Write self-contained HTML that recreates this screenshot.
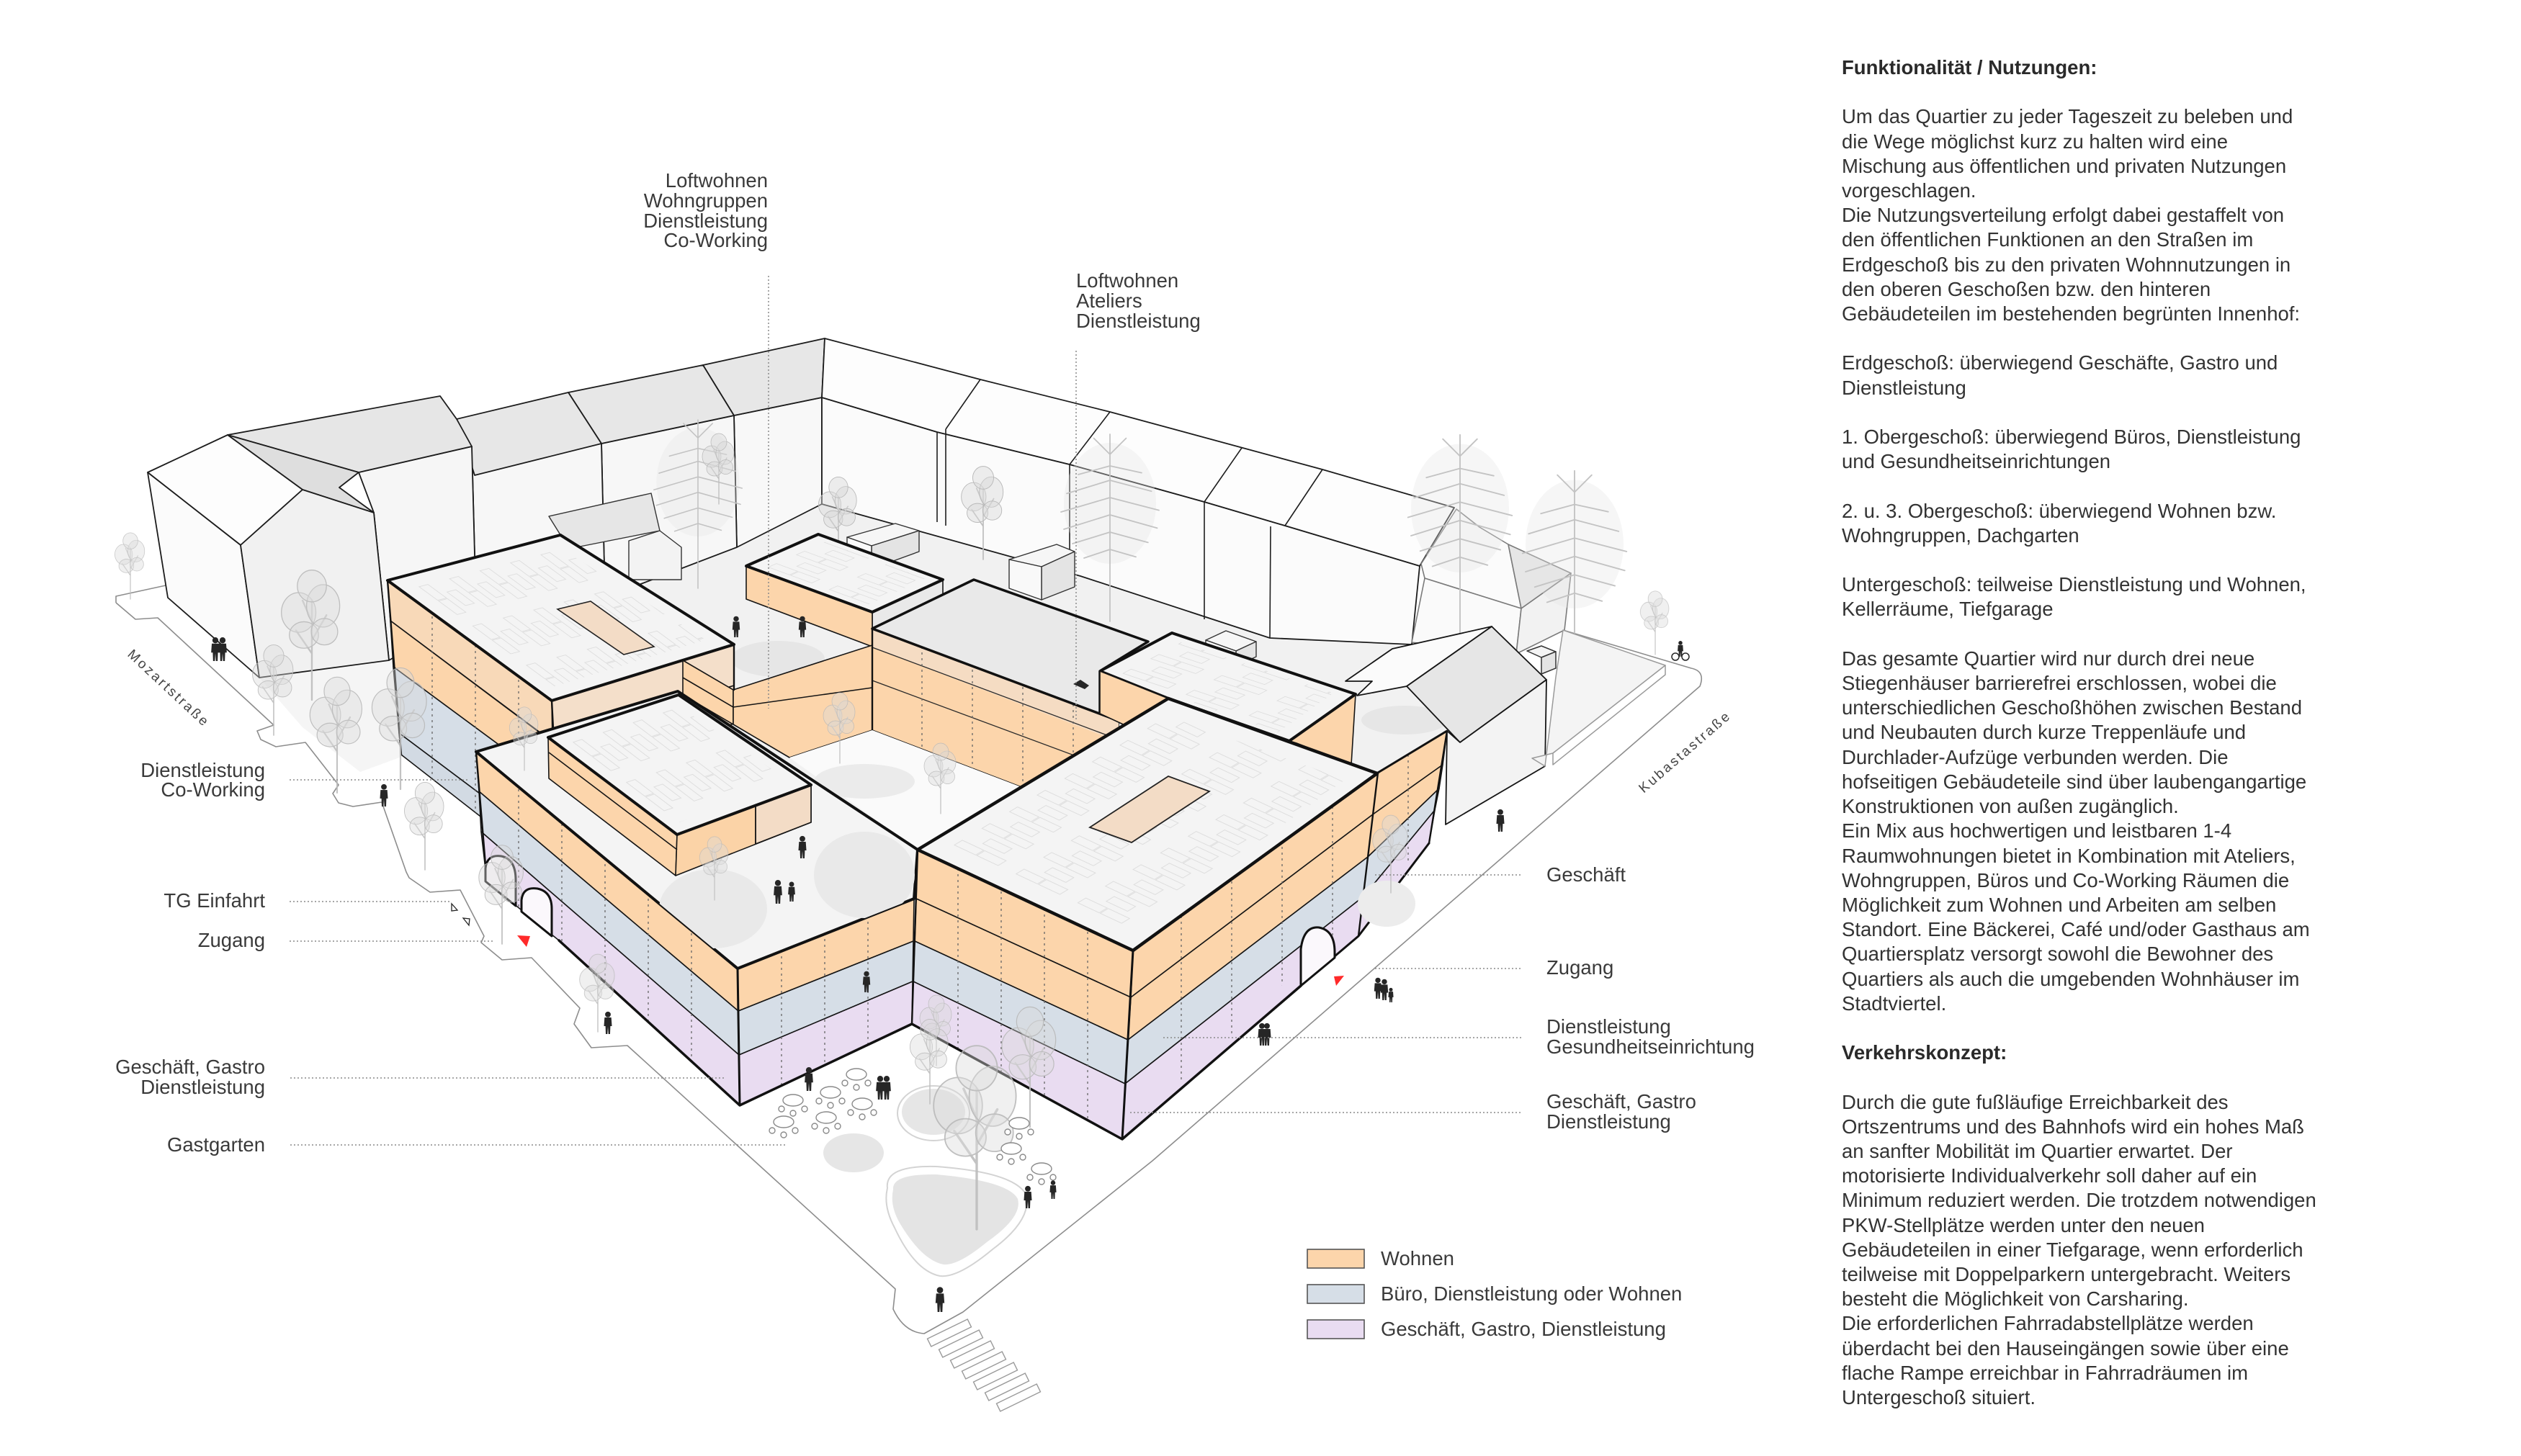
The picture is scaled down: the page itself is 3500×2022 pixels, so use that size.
<!DOCTYPE html>
<html lang="de"><head><meta charset="utf-8"><title>Funktionalität / Nutzungen</title>
<style>
html,body{margin:0;padding:0;background:#fff;}
body{width:3500px;height:2022px;position:relative;overflow:hidden;font-family:"Liberation Sans",Arial,Helvetica,sans-serif;}
svg{position:absolute;left:0;top:0;display:block;}
#txt{position:absolute;left:2557px;top:77px;font-size:27.5px;line-height:34.2px;color:#333;white-space:pre;margin:0;font-family:"Liberation Sans",Arial,Helvetica,sans-serif;}
#txt b{font-weight:bold;color:#2a2a2a;}
</style></head><body>
<svg width="3500" height="2022" viewBox="0 0 3500 2022" xmlns="http://www.w3.org/2000/svg">
<defs>
 <g id="tr">
  <path d="M0,0 L0,-150 M0,-70 L-24,-105 M0,-90 L22,-128 M0,-118 L-14,-150" stroke="#bdbdbd" stroke-width="2.6" fill="none" stroke-linecap="round"/>
  <g fill="#d9d9d9" fill-opacity="0.45" stroke="#b8b8b8" stroke-width="1.4">
   <ellipse cx="-20" cy="-132" rx="26" ry="30"/>
   <ellipse cx="17" cy="-142" rx="25" ry="32"/>
   <ellipse cx="0" cy="-172" rx="22" ry="24"/>
   <ellipse cx="-12" cy="-98" rx="22" ry="20"/>
   <ellipse cx="19" cy="-103" rx="20" ry="20"/>
  </g>
 </g>
 <g id="pm">
  <ellipse cx="0" cy="-205" rx="80" ry="105" fill="#e4e4e4" fill-opacity="0.35"/>
  <path d="M0,0 L0,-290 M0,-270 L-55,-255 M0,-270 L55,-258 M0,-245 L-75,-222 M0,-245 L72,-226 M0,-215 L-85,-190 M0,-215 L85,-193 M0,-185 L-80,-160 M0,-185 L82,-162 M0,-155 L-65,-135 M0,-155 L66,-137 M0,-290 L-28,-318 M0,-290 L28,-318 M0,-290 L0,-325 M0,-125 L-45,-110 M0,-125 L45,-112" stroke="#c3c3c3" stroke-width="2.2" fill="none" stroke-linecap="round"/>
 </g>
 <g id="p" fill="#262626"><circle cx="0" cy="-32" r="4.6"/><path d="M-5.5,-27 L5.5,-27 L6.5,-13 L4,-13 L3.5,0 L0.8,0 L0,-12 L-0.8,0 L-3.5,0 L-4,-13 L-6.5,-13 Z"/></g>
 <g id="tb" fill="#fff" stroke="#8a8a8a" stroke-width="1.4"><ellipse cx="0" cy="0" rx="14" ry="8"/><circle cx="-16" cy="12" r="4"/><circle cx="16" cy="12" r="4"/><circle cx="0" cy="18" r="4"/></g>
 <g id="pvcell"><rect x="4" y="4" width="38" height="15" fill="none" stroke="#dcdcdc" stroke-width="1.3"/><rect x="44" y="4" width="38" height="15" fill="none" stroke="#dcdcdc" stroke-width="1.3"/><rect x="30" y="30" width="38" height="15" fill="none" stroke="#dcdcdc" stroke-width="1.3"/></g>
 <pattern id="pvD" width="110" height="52" patternUnits="userSpaceOnUse" patternTransform="matrix(0.906,0.424,0.857,-0.517,1274,1180)"><use href="#pvcell"/></pattern>
 <pattern id="pvA" width="110" height="52" patternUnits="userSpaceOnUse" patternTransform="matrix(0.806,0.590,0.968,-0.254,538,806)"><use href="#pvcell"/></pattern>
 <pattern id="pvP" width="110" height="52" patternUnits="userSpaceOnUse" patternTransform="matrix(0.799,0.603,0.953,-0.311,761,1024)"><use href="#pvcell"/></pattern>
 <pattern id="pvF" width="110" height="52" patternUnits="userSpaceOnUse" patternTransform="matrix(0.940,0.344,0.915,-0.403,1036,786)"><use href="#pvcell"/></pattern>
 <pattern id="pvG" width="110" height="52" patternUnits="userSpaceOnUse" patternTransform="matrix(0.948,0.316,0.884,-0.468,1527,932)"><use href="#pvcell"/></pattern>
 <clipPath id="cCF"><polygon points="661,1044 1024,1345 1027,1535 776,1306 676,1225"/></clipPath>
 <clipPath id="cCR"><polygon points="1024,1345 1269,1248 1266,1422 1027,1535"/></clipPath>
 <clipPath id="cDL"><polygon points="1274,1180 1573,1320 1558,1582 1266,1422"/></clipPath>
 <clipPath id="cDR"><polygon points="1573,1320 1913,1073 2009,1015 1984,1171 1558,1582"/></clipPath>
 <clipPath id="cE"><polygon points="1211,873 1553,1001 1553,1140 1418,1093 1211,1014"/></clipPath>
 <clipPath id="cAL"><polygon points="538,806 766,973 771,1215 557,1048"/></clipPath>
 <clipPath id="cCroof"><polygon points="661,1044 941,960 1274,1180 1269,1248 1024,1345"/></clipPath>
</defs>

<!-- ground -->
<polygon points="520,920 1141,680 1970,890 2012,1012 1573,1320 1024,1345 600,1055" fill="#f1f1f1"/>
<polygon points="360,941 545,915 560,1050 500,1072 420,1010" fill="#f5f5f5"/>

<!-- streets -->
<g fill="none" stroke="#8d8d8d" stroke-width="1.6" stroke-linejoin="round">
 <path d="M161,837 L161,828 L230,813"/>
 <path d="M161,837 L188,860 L219,858 L380,1007 L357,1015 L362,1027 L383,1037 L424,1031 L470,1090 L462,1102 L470,1115 L490,1120 L530,1114 L564,1211 L568,1219 L597,1239 L639,1236 L672,1300 L668,1309 L697,1333 L738,1330 L805,1400 L797,1422 L821,1455 L871,1452 L1243,1790 L1240,1818 Q1255,1850 1283,1852 L1337,1822 L1600,1612 L2360,953 Q2368,932 2348,928 L2170,875"/>
</g>
<g fill="#fff" stroke="#9a9a9a" stroke-width="1.4">
 <rect x="-31" y="-6" width="62" height="12" transform="translate(1318,1851) rotate(-26)"/>
 <rect x="-31" y="-6" width="62" height="12" transform="translate(1334,1866) rotate(-26)"/>
 <rect x="-31" y="-6" width="62" height="12" transform="translate(1350,1881) rotate(-26)"/>
 <rect x="-31" y="-6" width="62" height="12" transform="translate(1366,1896) rotate(-26)"/>
 <rect x="-31" y="-6" width="62" height="12" transform="translate(1382,1911) rotate(-26)"/>
 <rect x="-31" y="-6" width="62" height="12" transform="translate(1398,1926) rotate(-26)"/>
 <rect x="-31" y="-6" width="62" height="12" transform="translate(1414,1941) rotate(-26)"/>
</g>

<!-- existing back row -->
<g stroke="#1c1c1c" stroke-width="1.8" stroke-linejoin="round">
 <polygon points="1019,577 1141,552 1141,700 1023,760" fill="#f8f8f8"/>
 <polygon points="976,507 1145,470 1141,552 1019,577" fill="#e7e7e7"/>
 <polygon points="835,616 1019,577 1023,760 840,830" fill="#f7f7f7"/>
 <polygon points="789,545 976,507 1019,577 835,616" fill="#e7e7e7"/>
 <polygon points="655,619 835,616 840,830 661,846" fill="#f7f7f7"/>
 <polygon points="634,582 789,545 835,616 659,660" fill="#e7e7e7"/>
 <polygon points="498,656 655,620 661,846 540,917 519,712" fill="#f6f6f6"/>
 <polygon points="316,604 611,550 634,582 655,620 498,656" fill="#e6e6e6"/>
 <polygon points="1141,552 1301,600 1485,645 1672,697 1784,730 1971,786 1960,895 1763,886 1500,800 1141,700" fill="#fbfbfb"/>
 <polygon points="1145,470 1361,527 1541,572 1836,652 2019,705 1971,786 1784,730 1672,697 1485,645 1301,600 1141,552" fill="#fdfdfd"/>
</g>
<path d="M1301,600 L1301,725 M1313,596 L1361,527 M1313,596 L1313,730 M1485,645 L1485,790 M1485,645 L1541,572 M1672,697 L1672,860 M1672,697 L1724,622 M1764,731 L1763,886 M1784,730 L1836,652" stroke="#1e1e1e" stroke-width="1.6" fill="none"/>
<g stroke="#7a7a7a" stroke-width="1.6" stroke-linejoin="round">
 <polygon points="1973,783 2022,707 2054,732 2094,756 2112,845 1978,803" fill="#fbfbfb"/>
 <polygon points="2094,756 2181,796 2112,845" fill="#e6e6e6"/>
 <polygon points="1978,803 2112,845 2105,908 1960,892" fill="#fafafa"/>
 <polygon points="2112,845 2181,796 2172,875 2105,908" fill="#f2f2f2"/>
</g>
<g stroke="#1c1c1c" stroke-width="1.8" stroke-linejoin="round">
 <polygon points="316,604 498,656 471,677 519,712 420,680" fill="#dedede"/>
 <polygon points="205,656 316,604 420,680 334,757" fill="#fdfdfd"/>
 <polygon points="205,656 334,757 360,941 233,830" fill="#fbfbfb"/>
 <polygon points="334,757 420,680 519,712 540,917 360,941" fill="#f1f1f1"/>
</g>
<g stroke="#333" stroke-width="1.4" stroke-linejoin="round">
 <polygon points="762,717 904,685 916,737 790,762" fill="#e6e6e6"/>
 <polygon points="873,751 916,737 946,760 946,805 873,805" fill="#f3f3f3"/>
 <polygon points="1176,746 1243,727 1276,737 1210,758" fill="#f6f6f6"/>
 <polygon points="1210,758 1276,737 1276,766 1210,790" fill="#e4e4e4"/>
 <polygon points="1176,746 1210,758 1210,790 1176,778" fill="#f9f9f9"/>
 <polygon points="1401,777 1467,756 1492,766 1446,787" fill="#f6f6f6"/>
 <polygon points="1446,787 1492,766 1492,815 1446,833" fill="#e4e4e4"/>
 <polygon points="1401,777 1446,787 1446,833 1401,817" fill="#f9f9f9"/>
 <polygon points="1674,889 1702,876 1744,891 1716,904" fill="#f6f6f6"/>
 <polygon points="1716,904 1744,891 1744,912 1716,925" fill="#e4e4e4"/>
 <polygon points="1674,889 1716,904 1716,925 1674,910" fill="#f9f9f9"/>
</g>

<g fill="#e6e6e6">
 <ellipse cx="1080" cy="915" rx="65" ry="25"/>
 <ellipse cx="1950" cy="1000" rx="60" ry="20"/>
</g>

<use href="#pm" transform="translate(969,817) scale(0.72)"/>
<use href="#pm" transform="translate(1541,863) scale(0.8)"/>
<use href="#pm" transform="translate(2027,880) scale(0.85)"/>
<use href="#pm" transform="translate(2186,930) scale(0.85)"/>
<use href="#tr" transform="translate(1164,780) scale(0.6)"/>
<use href="#tr" transform="translate(1365,777) scale(0.66)"/>
<use href="#tr" transform="translate(998,700) scale(0.5)"/>

<!-- F -->
<g stroke="#151515" stroke-width="1.6" stroke-linejoin="round">
 <polygon points="1211,850 1309,805 1309,835 1211,873" fill="#e9e9e9"/>
 <polygon points="1036,786 1211,850 1211,898 1036,832" fill="#fcd5ab"/>
</g>
<polygon points="1036,786 1136,742 1309,805 1211,850" fill="#f4f4f4" stroke="#111" stroke-width="4" stroke-linejoin="round"/>
<polygon points="1036,786 1136,742 1309,805 1211,850" fill="url(#pvF)" transform="translate(1173,796) scale(0.82) translate(-1173,-796)"/>

<!-- G -->
<g stroke="#151515" stroke-width="1.6" stroke-linejoin="round">
 <polygon points="1527,932 1622,970 1622,1035 1527,991" fill="#fcd5ab"/>
 <polygon points="1790,1029 1882,964 1876,1062 1800,1032" fill="#fcd5ab"/>
</g>
<polygon points="1527,932 1627,879 1882,964 1790,1029 1622,970" fill="#f4f4f4" stroke="#111" stroke-width="4" stroke-linejoin="round"/>
<polygon points="1527,932 1627,879 1882,964 1790,1029 1622,970" fill="url(#pvG)" transform="translate(1690,955) scale(0.84) translate(-1690,-955)"/>

<!-- E -->
<polygon points="1211,873 1553,1001 1553,1140 1418,1093 1211,1014" fill="#fcd5ab" stroke="#151515" stroke-width="1.6"/>
<polygon points="1211,873 1553,1001 1553,1030 1211,899" fill="#f5dcc3"/>
<g clip-path="url(#cE)" stroke="#2a2a2a" stroke-width="1.3">
 <line x1="1211" y1="899" x2="1553" y2="1027"/>
 <line x1="1211" y1="945" x2="1553" y2="1072"/>
 <g stroke="#666" stroke-dasharray="3,5"><line x1="1280" y1="850" x2="1280" y2="1150"/><line x1="1350" y1="850" x2="1350" y2="1150"/><line x1="1420" y1="850" x2="1420" y2="1150"/><line x1="1490" y1="850" x2="1490" y2="1150"/></g>
</g>
<polygon points="1211,873 1352,805 1594,891 1527,932 1527,991 1553,1001" fill="#e9e9e9" stroke="#111" stroke-width="3.5" stroke-linejoin="round"/>
<polygon points="1527,932 1622,970 1622,1035 1527,991" fill="#fcd5ab" stroke="#151515" stroke-width="1.6"/>

<!-- A -->
<g stroke="#151515" stroke-width="1.6" stroke-linejoin="round">
 <polygon points="766,973 1019,895 1019,1005 766,1085" fill="#f4dfca"/>
 <line x1="766" y1="1030" x2="1019" y2="952"/>
 <polygon points="538,806 766,973 767,1030 542,862" fill="#f8d9b8"/>
 <polygon points="542,862 766,1030 768,1090 546,926" fill="#fcd5ab"/>
 <polygon points="546,926 768,1090 770,1180 554,1018" fill="#d6dee7"/>
 <polygon points="554,1018 770,1180 771,1215 557,1048" fill="#d2dae3"/>
</g>
<g clip-path="url(#cAL)" stroke="#666" stroke-width="1.3" stroke-dasharray="3,5"><line x1="600" y1="800" x2="600" y2="1200"/><line x1="660" y1="800" x2="660" y2="1200"/><line x1="720" y1="800" x2="720" y2="1200"/></g>
<polygon points="538,806 778,743 1019,895 766,973" fill="#f4f4f4" stroke="#111" stroke-width="4" stroke-linejoin="round"/>
<polygon points="538,806 778,743 1019,895 766,973" fill="url(#pvA)" transform="translate(775,854) scale(0.84) translate(-775,-854)"/>
<polygon points="774,846 820,835 908,898 866,909" fill="#f3dcc6" stroke="#222" stroke-width="1.6"/>

<!-- W1 -->
<g stroke="#151515" stroke-width="1.6" stroke-linejoin="round">
 <polygon points="948,917 1018,958 1018,1006 948,965" fill="#fcd5ab"/>
 <polygon points="1018,958 1211,896 1211,1014 1096,1052 1018,1006" fill="#fcd5ab"/>
 <line x1="1018" y1="982" x2="1211" y2="955"/>
 <line x1="948" y1="941" x2="1018" y2="982"/>
</g>
<line x1="1211" y1="873" x2="1211" y2="1014" stroke="#111" stroke-width="2.4"/>

<polygon points="1096,1052 1211,1014 1418,1093 1274,1180" fill="#fafafa"/>
<ellipse cx="1200" cy="1085" rx="70" ry="24" fill="#ebebeb"/>

<!-- C -->
<g stroke="#151515" stroke-width="1.6" stroke-linejoin="round">
 <polygon points="661,1044 1024,1345 1025,1404 665,1099" fill="#fcd5ab"/>
 <polygon points="665,1099 1025,1404 1026,1465 668,1155" fill="#d6dee7"/>
 <polygon points="668,1155 1026,1465 1027,1535 776,1306 676,1225" fill="#e9dcf1"/>
 <polygon points="1024,1345 1269,1248 1268,1307 1025,1404" fill="#fcd5ab"/>
 <polygon points="1025,1404 1268,1307 1267,1363 1026,1465" fill="#d6dee7"/>
 <polygon points="1026,1465 1267,1363 1266,1422 1027,1535" fill="#e9dcf1"/>
</g>
<g clip-path="url(#cCF)" stroke="#666" stroke-width="1.3" stroke-dasharray="3,5"><line x1="720" y1="1000" x2="720" y2="1560"/><line x1="780" y1="1000" x2="780" y2="1560"/><line x1="840" y1="1000" x2="840" y2="1560"/><line x1="900" y1="1000" x2="900" y2="1560"/><line x1="960" y1="1000" x2="960" y2="1560"/></g>
<g clip-path="url(#cCR)" stroke="#666" stroke-width="1.3" stroke-dasharray="3,5"><line x1="1085" y1="1200" x2="1085" y2="1560"/><line x1="1145" y1="1200" x2="1145" y2="1560"/><line x1="1205" y1="1200" x2="1205" y2="1560"/></g>
<polygon points="661,1044 941,960 1274,1180 1269,1248 1024,1345" fill="#f4f4f4" stroke="#111" stroke-width="4" stroke-linejoin="round"/>
<g clip-path="url(#cCroof)" fill="#e9e9e9">
 <ellipse cx="990" cy="1262" rx="75" ry="55"/>
 <ellipse cx="1200" cy="1215" rx="70" ry="60"/>
</g>
<g stroke="#151515" stroke-width="1.6" stroke-linejoin="round">
 <polygon points="761,1024 940,1159 938,1216 762,1081" fill="#fcd5ab"/>
 <polygon points="940,1159 1126,1090 1126,1142 938,1216" fill="#fbd3a7"/>
 <polygon points="1049,1118 1126,1090 1126,1142 1049,1172" fill="#f3dcc6"/>
 <line x1="1049" y1="1118" x2="1049" y2="1172"/>
 <line x1="762" y1="1045" x2="940" y2="1180"/>
</g>
<polygon points="761,1024 942,965 1126,1090 940,1159" fill="#f4f4f4" stroke="#111" stroke-width="4" stroke-linejoin="round"/>
<polygon points="761,1024 942,965 1126,1090 940,1159" fill="url(#pvP)" transform="translate(942,1060) scale(0.84) translate(-942,-1060)"/>

<!-- D -->
<g stroke="#151515" stroke-width="1.6" stroke-linejoin="round">
 <polygon points="1274,1180 1573,1320 1570,1385 1272,1248" fill="#fcd5ab"/>
 <polygon points="1272,1248 1570,1385 1566,1444 1270,1307" fill="#fcd5ab"/>
 <polygon points="1270,1307 1566,1444 1562,1505 1268,1363" fill="#d6dee7"/>
 <polygon points="1268,1363 1562,1505 1558,1582 1266,1422" fill="#e9dcf1"/>
 <polygon points="1573,1320 1913,1073 2009,1015 2003,1062 1906,1131 1570,1385" fill="#fcd5ab"/>
 <polygon points="1570,1385 1906,1131 2003,1062 1998,1095 1899,1190 1566,1444" fill="#fcd5ab"/>
 <polygon points="1566,1444 1899,1190 1998,1095 1992,1125 1893,1245 1562,1505" fill="#d6dee7"/>
 <polygon points="1562,1505 1893,1245 1992,1125 1984,1171 1886,1300 1558,1582" fill="#e9dcf1"/>
</g>
<g clip-path="url(#cDL)" stroke="#666" stroke-width="1.3" stroke-dasharray="3,5"><line x1="1330" y1="1150" x2="1330" y2="1600"/><line x1="1390" y1="1150" x2="1390" y2="1600"/><line x1="1450" y1="1150" x2="1450" y2="1600"/><line x1="1510" y1="1150" x2="1510" y2="1600"/></g>
<g clip-path="url(#cDR)" stroke="#666" stroke-width="1.3" stroke-dasharray="3,5"><line x1="1640" y1="1000" x2="1640" y2="1600"/><line x1="1710" y1="1000" x2="1710" y2="1600"/><line x1="1780" y1="1000" x2="1780" y2="1600"/><line x1="1850" y1="1000" x2="1850" y2="1600"/><line x1="1955" y1="1000" x2="1955" y2="1600"/></g>
<polygon points="1274,1180 1622,970 1912,1074 1573,1320" fill="#f4f4f4" stroke="#111" stroke-width="4.5" stroke-linejoin="round"/>
<polygon points="1274,1180 1622,970 1912,1074 1573,1320" fill="url(#pvD)" transform="translate(1595,1136) scale(0.86) translate(-1595,-1136)"/>
<polygon points="1513,1149 1622,1078 1679,1099 1571,1170" fill="#f3dcc6" stroke="#222" stroke-width="1.8"/>
<line x1="1913" y1="1073" x2="2009" y2="1015" stroke="#111" stroke-width="3"/>

<g stroke="#111" fill="none" stroke-linejoin="round" stroke-linecap="round">
 <path d="M1266,1422 L1558,1582 L1806,1369" stroke-width="3.5"/>
 <path d="M1853,1328 L1886,1300 L1984,1171" stroke-width="3"/>
 <path d="M1573,1320 L1558,1582" stroke-width="3"/>
 <path d="M1913,1073 L1886,1300" stroke-width="2.4"/>
 <path d="M2009,1015 L1984,1171" stroke-width="2.4"/>
 <path d="M1274,1180 L1266,1422" stroke-width="2.4"/>
 <path d="M776,1306 L1027,1535 L1266,1422" stroke-width="3.5"/>
 <path d="M1024,1345 L1027,1535" stroke-width="3"/>
 <path d="M661,1044 L676,1225" stroke-width="2.4"/>
 <path d="M538,806 L557,1048" stroke-width="2.4"/>
 <path d="M766,973 L768,1012" stroke-width="2.4"/>
 <path d="M1019,895 L1019,958" stroke-width="2.4"/>
</g>

<g fill="#fbf8fc" stroke="#111" stroke-width="3" stroke-linejoin="round">
 <path d="M674,1224 L674,1206 Q676,1186 696,1189 Q716,1193 716,1222 L716,1258 Z"/>
 <path d="M724,1266 L724,1250 Q726,1231 746,1234 Q766,1238 766,1262 L766,1300 Z"/>
 <path d="M1806,1369 L1806,1318 Q1810,1286 1831,1288 Q1853,1292 1853,1322 L1853,1330 Z"/>
</g>

<g stroke="#151515" stroke-width="1.8" stroke-linejoin="round">
 <polygon points="1868,946 1933,901 2071,870 1953,953 1884,966 1905,946" fill="#fbfbfb"/>
 <polygon points="1953,953 2071,870 2147,944 2027,1031" fill="#e6e6e6"/>
 <polygon points="2009,1015 2027,1031 2147,944 2145,1064 2007,1145" fill="#f3f3f3"/>
</g>
<g stroke="#9a9a9a" stroke-width="1.5" stroke-linejoin="round">
 <polygon points="2170,875 2312,924 2156,1046 2127,1053 2145,1064 2160,940" fill="#f4f4f4"/>
 <polygon points="2312,924 2312,937 2156,1062 2156,1046" fill="#fff"/>
 <polygon points="2120,904 2140,897 2160,905 2140,913" fill="#f4f4f4" stroke="#333"/>
 <polygon points="2140,913 2160,905 2160,928 2140,936" fill="#e4e4e4" stroke="#333"/>
</g>

<g>
 <path d="M1232,1650 Q1228,1618 1300,1620 Q1410,1628 1425,1660 Q1432,1695 1378,1735 Q1330,1775 1305,1772 Q1270,1765 1242,1705 Q1226,1675 1232,1650 Z" fill="none" stroke="#d3d3d3" stroke-width="2"/>
 <path d="M1240,1652 Q1238,1630 1300,1631 Q1400,1640 1413,1665 Q1420,1690 1370,1725 Q1330,1758 1310,1756 Q1280,1750 1250,1700 Q1235,1675 1240,1652 Z" fill="#e4e4e4"/>
 <ellipse cx="1185" cy="1601" rx="42" ry="27" fill="#e6e6e6"/>
 <ellipse cx="1296" cy="1546" rx="50" ry="38" fill="none" stroke="#d3d3d3" stroke-width="2"/>
 <ellipse cx="1296" cy="1544" rx="44" ry="32" fill="#e6e6e6"/>
 <ellipse cx="1925" cy="1255" rx="40" ry="32" fill="#ececec"/>
</g>

<g opacity="0.9">
<use href="#tr" transform="translate(181,832) scale(0.47)"/>
<use href="#tr" transform="translate(433,972) scale(0.92)"/>
<use href="#tr" transform="translate(380,1021) scale(0.64)"/>
<use href="#tr" transform="translate(468,1101) scale(0.82)"/>
<use href="#tr" transform="translate(556,1096) scale(0.86)"/>
<use href="#tr" transform="translate(590,1208) scale(0.62)"/>
<use href="#tr" transform="translate(697,1311) scale(0.7)"/>
<use href="#tr" transform="translate(728,1070) scale(0.45)"/>
<use href="#tr" transform="translate(992,1250) scale(0.45)"/>
<use href="#tr" transform="translate(1166,1060) scale(0.5)"/>
<use href="#tr" transform="translate(1306,1130) scale(0.5)"/>
<use href="#tr" transform="translate(830,1433) scale(0.55)"/>
<use href="#tr" transform="translate(1300,1480) scale(0.5)"/>
<use href="#tr" transform="translate(1931,1240) scale(0.55)"/>
<use href="#tr" transform="translate(1356,1707) scale(1.3)"/>
<use href="#tr" transform="translate(1430,1565) scale(0.85)"/>
<use href="#tr" transform="translate(1291,1533) scale(0.6)"/>
<use href="#tr" transform="translate(2298,909) scale(0.45)"/>
</g>

<use href="#tb" x="1189" y="1492"/><use href="#tb" x="1153" y="1517"/><use href="#tb" x="1101" y="1528"/>
<use href="#tb" x="1197" y="1533"/><use href="#tb" x="1147" y="1552"/><use href="#tb" x="1088" y="1558"/>
<use href="#tb" x="1415" y="1560"/><use href="#tb" x="1404" y="1595"/><use href="#tb" x="1446" y="1623"/>

<g>
<use href="#p" transform="translate(299,918) scale(0.9)"/><use href="#p" transform="translate(309,918) scale(0.9)"/>
<use href="#p" transform="translate(533,1120) scale(0.85)"/>
<use href="#p" transform="translate(1022,885) scale(0.8)"/><use href="#p" transform="translate(1114,885) scale(0.8)"/>
<use href="#p" transform="translate(1114,1192) scale(0.85)"/>
<use href="#p" transform="translate(1080,1255) scale(0.9)"/><use href="#p" transform="translate(1099,1252) scale(0.75)"/>
<use href="#p" transform="translate(844,1436) scale(0.85)"/>
<use href="#p" transform="translate(1123,1515) scale(0.9)"/>
<use href="#p" transform="translate(1222,1527) scale(0.9)"/><use href="#p" transform="translate(1231,1527) scale(0.9)"/>
<use href="#p" transform="translate(1203,1378) scale(0.8)"/>
<use href="#p" transform="translate(1305,1822) scale(0.95)"/>
<use href="#p" transform="translate(1427,1678) scale(0.85)"/><use href="#p" transform="translate(1462,1665) scale(0.7)"/>
<use href="#p" transform="translate(1752,1452) scale(0.85)"/><use href="#p" transform="translate(1759,1452) scale(0.85)"/>
<use href="#p" transform="translate(1913,1387) scale(0.8)"/><use href="#p" transform="translate(1922,1389) scale(0.8)"/><use href="#p" transform="translate(1931,1392) scale(0.55)"/>
<use href="#p" transform="translate(2083,1155) scale(0.85)"/>
<use href="#p" transform="translate(2333,912) scale(0.6)"/>
<path d="M1490,950 L1500,944 L1512,952 L1506,957 Z" fill="#262626"/>
</g>
<circle cx="2326" cy="912" r="5" fill="none" stroke="#262626" stroke-width="1.5"/><circle cx="2340" cy="912" r="5" fill="none" stroke="#262626" stroke-width="1.5"/>

<polygon points="718,1299 736,1300 731,1315" fill="#ff2a2a"/>
<polygon points="1852,1356 1866,1355 1855,1369" fill="#ff2a2a"/>
<g fill="#fff" stroke="#222" stroke-width="1.3"><polygon points="627,1255 635,1264 627,1265"/><polygon points="643,1275 652,1276 651,1285"/></g>

<g stroke="#8a8a8a" stroke-width="1.5" stroke-dasharray="2,3" fill="none">
 <line x1="402" y1="1083" x2="651" y2="1083"/>
 <line x1="402" y1="1252" x2="624" y2="1252"/>
 <line x1="402" y1="1307" x2="686" y2="1307"/>
 <line x1="403" y1="1497" x2="1008" y2="1497"/>
 <line x1="403" y1="1590" x2="1091" y2="1590"/>
 <line x1="1909" y1="1215" x2="2112" y2="1215"/>
 <line x1="1909" y1="1345" x2="2112" y2="1345"/>
 <line x1="1615" y1="1441" x2="2112" y2="1441"/>
 <line x1="1569" y1="1545" x2="2112" y2="1545"/>
 <line x1="1067" y1="383" x2="1067" y2="984"/>
 <line x1="1494" y1="487" x2="1494" y2="1000"/>
</g>

<g font-family="Liberation Sans, Arial, Helvetica, sans-serif" font-size="27.5" fill="#3a3a3a">
 <g text-anchor="end">
  <text x="368" y="1079">Dienstleistung</text>
  <text x="368" y="1106">Co-Working</text>
  <text x="368" y="1260">TG Einfahrt</text>
  <text x="368" y="1315">Zugang</text>
  <text x="368" y="1491">Geschäft, Gastro</text>
  <text x="368" y="1519">Dienstleistung</text>
  <text x="368" y="1599">Gastgarten</text>
  <text x="1066" y="260">Loftwohnen</text>
  <text x="1066" y="288">Wohngruppen</text>
  <text x="1066" y="316">Dienstleistung</text>
  <text x="1066" y="343">Co-Working</text>
 </g>
 <text x="1494" y="399">Loftwohnen</text>
 <text x="1494" y="427">Ateliers</text>
 <text x="1494" y="455">Dienstleistung</text>
 <text x="2147" y="1224">Geschäft</text>
 <text x="2147" y="1353">Zugang</text>
 <text x="2147" y="1435">Dienstleistung</text>
 <text x="2147" y="1463">Gesundheitseinrichtung</text>
 <text x="2147" y="1539">Geschäft, Gastro</text>
 <text x="2147" y="1567">Dienstleistung</text>
 <text x="1917" y="1757">Wohnen</text>
 <text x="1917" y="1806">Büro, Dienstleistung oder Wohnen</text>
 <text x="1917" y="1855">Geschäft, Gastro, Dienstleistung</text>
</g>
<g stroke="#555" stroke-width="1.6">
 <rect x="1815" y="1735" width="79" height="26" fill="#fcd5ab"/>
 <rect x="1815" y="1784" width="79" height="26" fill="#d6dee7"/>
 <rect x="1815" y="1833" width="79" height="26" fill="#e9dcf1"/>
</g>
<g font-family="Liberation Sans, Arial, Helvetica, sans-serif" font-size="19" fill="#444" letter-spacing="3">
 <text transform="translate(176,910) rotate(43)">Mozartstraße</text>
 <text transform="translate(2282,1102) rotate(-41)">Kubastastraße</text>
</g>
</svg>
<div id="txt"><b>Funktionalität / Nutzungen:</b>

Um das Quartier zu jeder Tageszeit zu beleben und
die Wege möglichst kurz zu halten wird eine
Mischung aus öffentlichen und privaten Nutzungen
vorgeschlagen.
Die Nutzungsverteilung erfolgt dabei gestaffelt von
den öffentlichen Funktionen an den Straßen im
Erdgeschoß bis zu den privaten Wohnnutzungen in
den oberen Geschoßen bzw. den hinteren
Gebäudeteilen im bestehenden begrünten Innenhof:

Erdgeschoß: überwiegend Geschäfte, Gastro und
Dienstleistung

1. Obergeschoß: überwiegend Büros, Dienstleistung
und Gesundheitseinrichtungen

2. u. 3. Obergeschoß: überwiegend Wohnen bzw.
Wohngruppen, Dachgarten

Untergeschoß: teilweise Dienstleistung und Wohnen,
Kellerräume, Tiefgarage

Das gesamte Quartier wird nur durch drei neue
Stiegenhäuser barrierefrei erschlossen, wobei die
unterschiedlichen Geschoßhöhen zwischen Bestand
und Neubauten durch kurze Treppenläufe und
Durchlader-Aufzüge verbunden werden. Die
hofseitigen Gebäudeteile sind über laubengangartige
Konstruktionen von außen zugänglich.
Ein Mix aus hochwertigen und leistbaren 1-4
Raumwohnungen bietet in Kombination mit Ateliers,
Wohngruppen, Büros und Co-Working Räumen die
Möglichkeit zum Wohnen und Arbeiten am selben
Standort. Eine Bäckerei, Café und/oder Gasthaus am
Quartiersplatz versorgt sowohl die Bewohner des
Quartiers als auch die umgebenden Wohnhäuser im
Stadtviertel.

<b>Verkehrskonzept:</b>

Durch die gute fußläufige Erreichbarkeit des
Ortszentrums und des Bahnhofs wird ein hohes Maß
an sanfter Mobilität im Quartier erwartet. Der
motorisierte Individualverkehr soll daher auf ein
Minimum reduziert werden. Die trotzdem notwendigen
PKW-Stellplätze werden unter den neuen
Gebäudeteilen in einer Tiefgarage, wenn erforderlich
teilweise mit Doppelparkern untergebracht. Weiters
besteht die Möglichkeit von Carsharing.
Die erforderlichen Fahrradabstellplätze werden
überdacht bei den Hauseingängen sowie über eine
flache Rampe erreichbar in Fahrradräumen im
Untergeschoß situiert.</div>
</body></html>
